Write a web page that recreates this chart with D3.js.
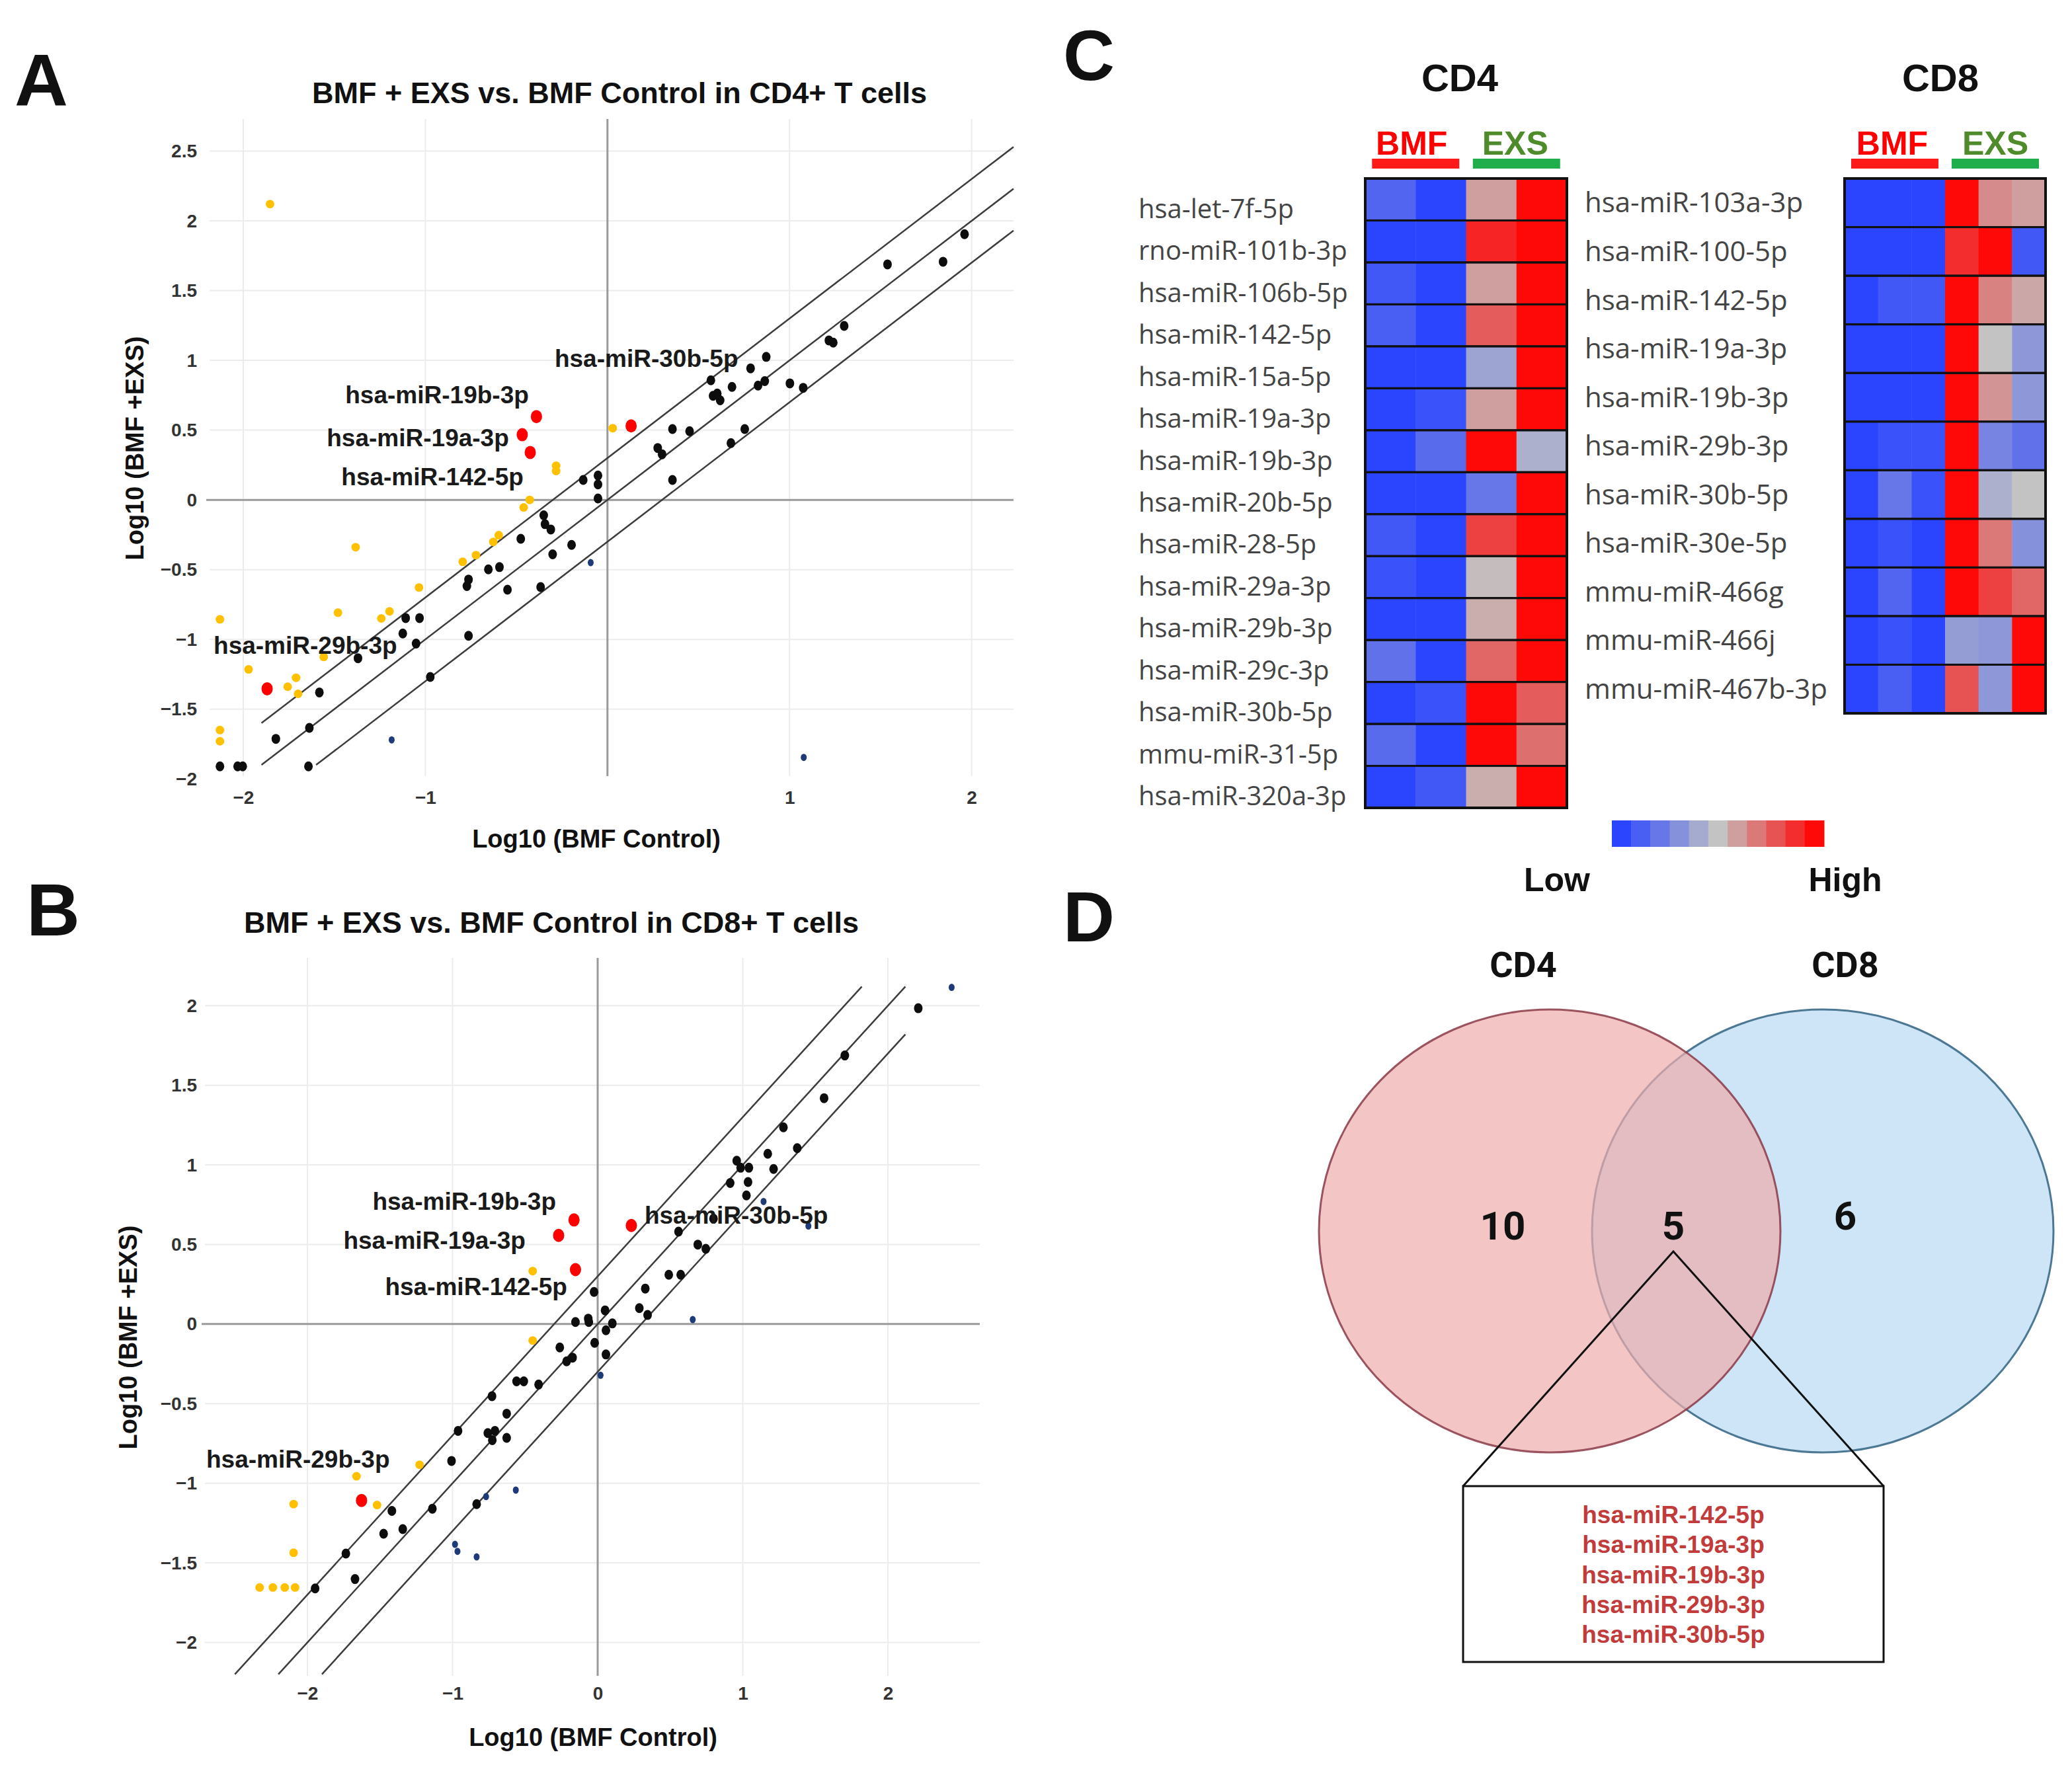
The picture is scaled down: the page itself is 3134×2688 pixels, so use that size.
<!DOCTYPE html>
<html>
<head>
<meta charset="utf-8">
<script src="https://cdn.jsdelivr.net/npm/d3@7"></script>
<style>
  body { margin: 0; background: #fff; }
  svg { display: block; }
</style>
</head>
<body>
<div id="fig"></div>
<script>
// ---------- data (log10 values) ----------
const foldLines = [0.3, 0, -0.3]; // y = x + c

// A: CD4+
const cd4Black = [[-2.128,-1.91],[-2.031,-1.91],[-2.003,-1.91],[-1.821,-1.713],[-1.637,-1.634],[-1.642,-1.91],
  [-1.582,-1.38],[-1.370,-1.135],[-1.124,-0.958],[-1.108,-0.847],[-1.032,-0.847],[-1.051,-1.03],[-0.973,-1.269],
  [-0.763,-0.974],[-0.772,-0.618],[-0.763,-0.571],[-0.654,-0.498],[-0.593,-0.482],[-0.549,-0.644],[-0.476,-0.279],
  [-0.367,-0.625],[-0.350,-0.111],[-0.343,-0.174],[-0.311,-0.212],[-0.301,-0.39],[-0.197,-0.323],[-0.133,0.143],
  [-0.052,0.175],[-0.052,0.111],[-0.052,0.01],[0.276,0.372],[0.300,0.327],[0.357,0.508],[0.357,0.143],[0.451,0.492],
  [0.568,0.857],[0.580,0.746],[0.603,0.762],[0.619,0.714],[0.684,0.81],[0.678,0.407],[0.754,0.508],[0.786,0.943],
  [0.827,0.819],[0.864,0.851],[0.872,1.025],[1.002,0.835],[1.075,0.803],[1.216,1.143],[1.240,1.127],[1.300,1.247],
  [1.538,1.688],[1.843,1.707],[1.961,1.904]];
const cd4Gold = [[-1.853,2.12],[-2.128,-0.856],[-2.128,-1.65],[-2.128,-1.73],[-1.971,-1.215],[-1.756,-1.339],
  [-1.710,-1.275],[-1.699,-1.39],[-1.558,-1.126],[-1.383,-0.339],[-1.480,-0.809],[-1.242,-0.85],[-1.197,-0.799],
  [-1.035,-0.628],[-0.795,-0.444],[-0.722,-0.396],[-0.627,-0.301],[-0.597,-0.253],[-0.460,-0.054],[-0.427,0.0],
  [-0.282,0.245],[-0.282,0.207],[0.029,0.514]];
const cd4Navy = [[-1.185,-1.72],[-0.092,-0.45],[1.078,-1.846]];
const cd4Red = [[-1.869,-1.354],[-0.468,0.467],[-0.390,0.597],[-0.424,0.34],[0.130,0.530]];
const cd4Labels = [["hsa-miR-19b-3p",-0.432,0.754,"end"],["hsa-miR-19a-3p",-0.541,0.445,"end"],
  ["hsa-miR-142-5p",-0.461,0.166,"end"],["hsa-miR-29b-3p",-2.163,-1.043,"start"],["hsa-miR-30b-5p",-0.290,1.014,"start"]];

// B: CD8+
const cd8Black = [[-1.947,-1.661],[-1.735,-1.442],[-1.672,-1.602],[-1.475,-1.317],[-1.418,-1.174],[-1.343,-1.288],
  [-1.139,-1.16],[-1.007,-0.86],[-0.962,-0.671],[-0.834,-1.131],[-0.757,-0.685],[-0.728,-0.453],[-0.726,-0.729],
  [-0.708,-0.671],[-0.627,-0.563],[-0.627,-0.715],[-0.559,-0.36],[-0.509,-0.36],[-0.407,-0.38],[-0.261,-0.147],
  [-0.214,-0.234],[-0.173,-0.211],[-0.153,0.013],[-0.065,0.034],[-0.061,0.013],[-0.025,0.202],[-0.021,-0.118],
  [0.051,0.086],[0.057,-0.039],[0.057,-0.191],[0.101,0.004],[0.287,0.100],[0.328,0.223],[0.344,0.057],[0.490,0.310],
  [0.572,0.310],[0.557,0.581],[0.690,0.499],[0.745,0.473],[0.798,0.662],[0.913,0.886],[0.958,1.026],[0.985,0.982],
  [1.042,0.982],[1.036,0.892],[1.025,0.808],[1.172,1.070],[1.212,0.974],[1.280,1.236],[1.375,1.105],[1.560,1.419],
  [1.703,1.687],[2.209,1.984]];
const cd8Gold = [[-2.329,-1.655],[-2.238,-1.655],[-2.156,-1.655],[-2.085,-1.655],[-2.095,-1.437],[-2.095,-1.131],
  [-1.662,-0.956],[-1.520,-1.137],[-1.227,-0.884],[-0.448,0.333],[-0.448,-0.103]];
const cd8Navy = [[-0.983,-1.384],[-0.966,-1.428],[-0.834,-1.463],[-0.769,-1.084],[-0.564,-1.043],[0.020,-0.322],
  [0.655,0.028],[1.143,0.770],[1.452,0.616],[2.439,2.115]];
const cd8Red = [[-1.627,-1.108],[-0.269,0.557],[-0.163,0.654],[-0.153,0.342],[0.232,0.619]];
const cd8Labels = [["hsa-miR-19b-3p",-0.287,0.772,"end"],["hsa-miR-19a-3p",-0.497,0.527,"end"],
  ["hsa-miR-142-5p",-0.210,0.237,"end"],["hsa-miR-29b-3p",-2.697,-0.846,"start"],["hsa-miR-30b-5p",0.323,0.685,"start"]];

// C: heatmaps (relative expression, -1 low .. 1 high)
const cd4Rows = ["hsa-let-7f-5p","rno-miR-101b-3p","hsa-miR-106b-5p","hsa-miR-142-5p","hsa-miR-15a-5p",
  "hsa-miR-19a-3p","hsa-miR-19b-3p","hsa-miR-20b-5p","hsa-miR-28-5p","hsa-miR-29a-3p","hsa-miR-29b-3p",
  "hsa-miR-29c-3p","hsa-miR-30b-5p","mmu-miR-31-5p","hsa-miR-320a-3p"];
const cd4Values = [[-0.75,-1,0.2,1],[-1,-1,0.85,1],[-0.85,-1,0.2,1],[-0.8,-1,0.55,1],[-1,-1,-0.25,1],
  [-1,-0.9,0.2,1],[-1,-0.7,1,-0.15],[-1,-1,-0.6,1],[-0.85,-1,0.7,1],[-0.9,-1,0.03,1],[-1,-1,0.12,1],
  [-0.65,-1,0.5,1],[-1,-0.9,1,0.55],[-0.7,-1,1,0.45],[-1,-0.85,0.12,1]];
const cd8Rows = ["hsa-miR-103a-3p","hsa-miR-100-5p","hsa-miR-142-5p","hsa-miR-19a-3p","hsa-miR-19b-3p",
  "hsa-miR-29b-3p","hsa-miR-30b-5p","hsa-miR-30e-5p","mmu-miR-466g","mmu-miR-466j","mmu-miR-467b-3p"];
const cd8Values = [[-1,-1,-1,1,0.3,0.2],[-1,-1,-1,0.8,1,-0.85],[-1,-0.85,-0.85,1,0.35,0.15],[-1,-1,-1,1,0,-0.35],
  [-1,-1,-1,1,0.25,-0.35],[-1,-0.9,-0.9,1,-0.5,-0.65],[-1,-0.6,-0.9,1,-0.15,0],[-1,-0.9,-1,1,0.4,-0.4],
  [-1,-0.75,-1,1,0.7,0.5],[-1,-0.9,-1,-0.3,-0.35,1],[-1,-0.8,-1,0.6,-0.35,1]];
const legendSteps = [-1,-0.8,-0.6,-0.4,-0.2,0,0.2,0.4,0.6,0.8,1];

// D: Venn
const vennCounts = { cd4Only: 10, shared: 5, cd8Only: 6 };
const sharedMiRs = ["hsa-miR-142-5p","hsa-miR-19a-3p","hsa-miR-19b-3p","hsa-miR-29b-3p","hsa-miR-30b-5p"];

// ---------- drawing ----------
const W = 3134, H = 2688;
const SANS = '"Liberation Sans", Arial, sans-serif';
const fmt = d3.format("~g");

const svg = d3.select("#fig").append("svg")
  .attr("width", W).attr("height", H)
  .attr("viewBox", `0 0 ${W} ${H}`);
svg.append("rect").attr("width", W).attr("height", H).attr("fill", "#fff");

function bold(g, txt, x, y, size, anchor) {
  return g.append("text").attr("x", x).attr("y", y)
    .attr("font-family", SANS).attr("font-weight", "bold")
    .attr("font-size", size).attr("text-anchor", anchor || "middle")
    .attr("fill", "#111").text(txt);
}

// scatter panels A / B
function scatter(cfg) {
  const g = svg.append("g");
  const x = d3.scaleLinear().domain(cfg.xDomain).range([cfg.left, cfg.right]);
  const y = d3.scaleLinear().domain(cfg.yDomain).range([cfg.bottom, cfg.top]);

  // grid
  g.append("g").selectAll("line").data(cfg.yTicks.filter(d => d !== 0 && y(d) <= cfg.bottom)).join("line")
    .attr("x1", cfg.left).attr("x2", cfg.right)
    .attr("y1", d => y(d)).attr("y2", d => y(d))
    .attr("stroke", "#ececec").attr("stroke-width", 2);
  g.append("g").selectAll("line").data(cfg.xGrid).join("line")
    .attr("x1", d => x(d)).attr("x2", d => x(d))
    .attr("y1", cfg.top).attr("y2", cfg.bottom)
    .attr("stroke", "#ececec").attr("stroke-width", 2);

  // zero lines
  g.append("line").attr("x1", cfg.left - 5).attr("x2", cfg.right)
    .attr("y1", y(0)).attr("y2", y(0)).attr("stroke", "#9a9a9a").attr("stroke-width", 3);
  g.append("line").attr("x1", x(0)).attr("x2", x(0))
    .attr("y1", cfg.top).attr("y2", cfg.bottom).attr("stroke", "#9a9a9a").attr("stroke-width", 3);

  // fold-change lines
  const [bx0, bx1, by0, by1] = cfg.lineBox;
  g.append("g").selectAll("line").data(foldLines).join("line")
    .each(function (c) {
      const a = Math.max(bx0, by0 - c), b = Math.min(bx1, by1 - c);
      d3.select(this).attr("x1", x(a)).attr("y1", y(a + c)).attr("x2", x(b)).attr("y2", y(b + c));
    })
    .attr("stroke", "#3c3c3c").attr("stroke-width", 2.5);

  // axes
  g.append("g").attr("transform", `translate(${cfg.left},0)`)
    .call(d3.axisLeft(y).tickValues(cfg.yTicks).tickSize(0).tickPadding(cfg.left - 298).tickFormat(fmt));
  g.append("g").attr("transform", `translate(0,${cfg.bottom})`)
    .call(d3.axisBottom(x).tickValues(cfg.xTicks).tickSize(0).tickPadding(cfg.xPad).tickFormat(fmt));
  g.selectAll(".domain").remove();
  g.selectAll(".tick text").attr("font-family", SANS).attr("font-weight", "bold")
    .attr("font-size", 28).attr("fill", "#333");

  // points
  const dots = (arr, fill, rx, ry) => g.append("g").selectAll("ellipse").data(arr).join("ellipse")
    .attr("cx", d => x(d[0])).attr("cy", d => y(d[1]))
    .attr("rx", rx).attr("ry", ry).attr("fill", fill);
  dots(cfg.black, "#0d0d0d", 6.5, 7.5);
  dots(cfg.gold, "#ffc000", 6.5, 6.5);
  dots(cfg.navy, "#1f3a78", 4.5, 5.5);
  dots(cfg.red, "#ff0000", 8.5, 10);

  // point labels
  g.append("g").selectAll("text").data(cfg.labels).join("text")
    .attr("x", d => x(d[1])).attr("y", d => y(d[2])).attr("dy", "0.35em")
    .attr("text-anchor", d => d[3])
    .attr("font-family", SANS).attr("font-weight", "bold").attr("font-size", 37)
    .attr("fill", "#1a1a1a").text(d => d[0]);

  // titles
  bold(g, cfg.title, cfg.titleX, cfg.titleY, 45);
  bold(g, "Log10 (BMF Control)", cfg.xTitleX, cfg.xTitleY, 38);
  bold(g, "Log10 (BMF +EXS)", 0, 0, 38)
    .attr("transform", `translate(${cfg.yTitleX},${cfg.yTitleY}) rotate(-90)`)
    .attr("dy", "0.35em");
  bold(g, cfg.letter, cfg.letterX, cfg.letterY, 112, "start");
}

scatter({
  letter: "A", letterX: 22, letterY: 160,
  title: "BMF + EXS vs. BMF Control in CD4+ T cells", titleX: 937, titleY: 156,
  left: 317, right: 1533, top: 180, bottom: 1174,
  xDomain: [-2.185, 2.23], yDomain: [-1.98, 2.73],
  xTicks: [-2, -1, 1, 2], xGrid: [-2, -1, 1, 2], xPad: 22,
  yTicks: [-2, -1.5, -1, -0.5, 0, 0.5, 1, 1.5, 2, 2.5],
  lineBox: [-1.9, 2.23, -1.9, 3],
  xTitleX: 902, xTitleY: 1282, yTitleX: 204, yTitleY: 678,
  black: cd4Black, gold: cd4Gold, navy: cd4Navy, red: cd4Red, labels: cd4Labels
});

scatter({
  letter: "B", letterX: 40, letterY: 1415,
  title: "BMF + EXS vs. BMF Control in CD8+ T cells", titleX: 834, titleY: 1411,
  left: 310, right: 1482, top: 1449, bottom: 2535,
  xDomain: [-2.706, 2.633], yDomain: [-2.21, 2.30],
  xTicks: [-2, -1, 0, 1, 2], xGrid: [-2, -1, 1, 2], xPad: 16,
  yTicks: [-2, -1.5, -1, -0.5, 0, 0.5, 1, 1.5, 2],
  lineBox: [-3, 2.12, -2.2, 2.12],
  xTitleX: 897, xTitleY: 2641, yTitleX: 194, yTitleY: 2023,
  black: cd8Black, gold: cd8Gold, navy: cd8Navy, red: cd8Red, labels: cd8Labels
});

// heatmaps (panel C)
const heatColor = d3.scaleLinear().domain([-1, 0, 1])
  .range(["#2b45ff", "#c3c3c3", "#ff0808"]).interpolate(d3.interpolateRgb);

function heatmap(cfg) {
  const g = svg.append("g");
  const nCol = cfg.values[0].length, nRow = cfg.rows.length;
  const x = d3.scaleBand().domain(d3.range(nCol)).range([cfg.x0, cfg.x1]);
  const y = d3.scaleBand().domain(d3.range(nRow)).range([cfg.y0, cfg.y1]);

  const row = g.selectAll("g.row").data(cfg.values).join("g").attr("class", "row");
  row.selectAll("rect").data((d, i) => d.map((v, j) => ({ v, i, j }))).join("rect")
    .attr("x", d => x(d.j)).attr("y", d => y(d.i))
    .attr("width", x.bandwidth() + 0.5).attr("height", y.bandwidth() + 0.5)
    .attr("fill", d => heatColor(d.v));
  g.append("g").selectAll("rect").data(cfg.rows).join("rect")
    .attr("x", cfg.x0).attr("y", (d, i) => y(i))
    .attr("width", cfg.x1 - cfg.x0).attr("height", y.bandwidth())
    .attr("fill", "none").attr("stroke", "#111").attr("stroke-width", 3);
  g.append("rect").attr("x", cfg.x0).attr("y", cfg.y0)
    .attr("width", cfg.x1 - cfg.x0).attr("height", cfg.y1 - cfg.y0)
    .attr("fill", "none").attr("stroke", "#111").attr("stroke-width", 4);

  g.append("g").selectAll("text").data(cfg.rows).join("text")
    .attr("x", cfg.labelX).attr("y", (d, i) => y(i) + y.bandwidth() / 2 + cfg.labelDy)
    .attr("dy", "0.35em")
    .attr("font-family", '"Open Sans", "Noto Sans", sans-serif')
    .attr("font-size", cfg.labelSize).attr("fill", "#444").text(d => d);

  // group headers
  cfg.groups.forEach(gr => {
    const cx = (x(gr.cols[0]) + x(gr.cols[1]) + x.bandwidth()) / 2;
    bold(g, gr.name, cx + gr.dx, 234, 50).attr("fill", gr.color);
    g.append("rect").attr("x", cx - 66).attr("y", 240).attr("width", 132).attr("height", 15)
      .attr("fill", gr.bar);
  });
  bold(g, cfg.title, cfg.titleX, 138, 58);
}

bold(svg, "C", 1608, 121, 108, "start");
heatmap({
  title: "CD4", titleX: 2208,
  x0: 2065, x1: 2370, y0: 270, y1: 1222,
  rows: cd4Rows, values: cd4Values, labelX: 1722, labelSize: 40, labelDy: 14,
  groups: [{ name: "BMF", cols: [0, 1], color: "#ff0000", bar: "#ff1a1a", dx: -6 },
           { name: "EXS", cols: [2, 3], color: "#4f8a2b", bar: "#1fae4b", dx: -2 }]
});
heatmap({
  title: "CD8", titleX: 2935,
  x0: 2790, x1: 3094, y0: 270, y1: 1079,
  rows: cd8Rows, values: cd8Values, labelX: 2397, labelSize: 42, labelDy: 0,
  groups: [{ name: "BMF", cols: [0, 2], color: "#ff0000", bar: "#ff1a1a", dx: -4 },
           { name: "EXS", cols: [3, 5], color: "#4f8a2b", bar: "#1fae4b", dx: 0 }]
});

// colour key
const key = d3.scaleBand().domain(legendSteps).range([2438, 2759]);
svg.append("g").selectAll("rect").data(legendSteps).join("rect")
  .attr("x", d => key(d)).attr("y", 1241).attr("width", key.bandwidth() + 0.5).attr("height", 40)
  .attr("fill", d => heatColor(d));
bold(svg, "Low", 2355, 1348, 50);
bold(svg, "High", 2791, 1348, 50);

// Venn (panel D)
const ROBOTO = 'Roboto, "Liberation Sans", sans-serif';
const vd = svg.append("g");
bold(vd, "D", 1608, 1424, 108, "start");
const circles = [
  { name: "CD4", cx: 2344, fill: "rgb(238,172,172)", op: 0.7, stroke: "#8a3a48" },
  { name: "CD8", cx: 2757, fill: "#cde5f7", op: 1, stroke: "#4d7893" }
];
vd.selectAll("ellipse").data(circles.slice().reverse()).join("ellipse")
  .attr("cx", d => d.cx).attr("cy", 1862).attr("rx", 349).attr("ry", 335)
  .attr("fill", d => d.fill).attr("fill-opacity", d => d.op)
  .attr("stroke", d => d.stroke).attr("stroke-width", 3).attr("stroke-opacity", d => d.op === 1 ? 1 : 0.85);
vd.selectAll("text.set").data(circles).join("text").attr("class", "set")
  .attr("x", (d, i) => i ? 2791 : 2304).attr("y", 1478).attr("text-anchor", "middle")
  .attr("font-family", ROBOTO).attr("font-weight", "bold").attr("font-size", 54)
  .attr("fill", "#111").text(d => d.name);

const counts = [[vennCounts.cd4Only, 2273, 1875], [vennCounts.shared, 2531, 1875], [vennCounts.cd8Only, 2791, 1860]];
vd.selectAll("text.num").data(counts).join("text").attr("class", "num")
  .attr("x", d => d[1]).attr("y", d => d[2]).attr("text-anchor", "middle")
  .attr("font-family", ROBOTO).attr("font-weight", "bold").attr("font-size", 60)
  .attr("fill", "#111").text(d => d[0]);

vd.append("path").attr("d", "M2213,2248 L2531,1893 L2849,2248")
  .attr("fill", "none").attr("stroke", "#111").attr("stroke-width", 3);
vd.append("rect").attr("x", 2213).attr("y", 2248).attr("width", 636).attr("height", 266)
  .attr("fill", "#fff").attr("stroke", "#111").attr("stroke-width", 3);
vd.selectAll("text.mir").data(sharedMiRs).join("text").attr("class", "mir")
  .attr("x", 2531).attr("y", (d, i) => 2304 + i * 45.3).attr("text-anchor", "middle")
  .attr("font-family", SANS).attr("font-weight", "bold").attr("font-size", 37)
  .attr("fill", "#c23b3b").text(d => d);
</script>
</body>
</html>
